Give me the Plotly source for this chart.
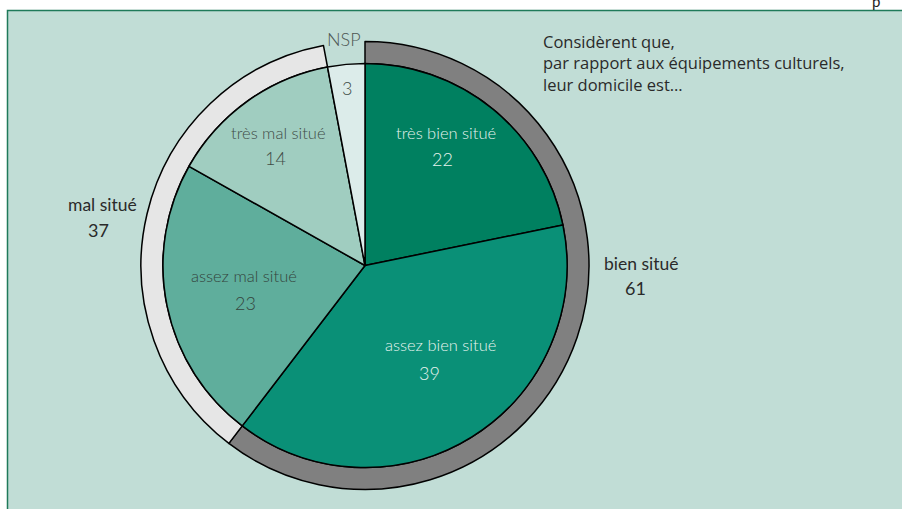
import plotly.graph_objects as go

# ---- data ----
inner_labels = ["très bien situé", "assez bien situé", "assez mal situé", "très mal situé", "NSP"]
inner_values = [22, 39, 23, 14, 3]
outer_labels = ["bien situé", "mal situé", "NSP"]
outer_values = [61, 37, 3]
title_lines = ["Considèrent que,", "par rapport aux équipements culturels,", "leur domicile est…"]

# ---- styles / layout ----
W, H = 902, 509
cx, cy = 365, 265.5
R_out, R_in = 224, 202
inner_colors = ["#008060", "#0a9077", "#5fae9c", "#a0cdc0", "#dcecea"]
outer_colors = ["#808080", "#e6e6e6", "rgba(0,0,0,0)"]
inner_text_colors = ["#e6f3ee", "#e6f3ee", "#34443d", "#3f4c47", "#3f4c47"]
FONT = "Lato"

def dom(r):
    return dict(x=[(cx - r) / W, (cx + r) / W],
                y=[(H - cy - r) / H, (H - cy + r) / H])

fig = go.Figure()
fig.add_trace(go.Pie(
    labels=outer_labels, values=outer_values, hole=R_in / R_out,
    sort=False, direction="clockwise", rotation=0,
    marker=dict(colors=outer_colors,
                line=dict(color="black", width=[1.5, 1.5, 0])),
    textinfo="none", hoverinfo="label+value", domain=dom(R_out),
    showlegend=False,
))
fig.add_trace(go.Pie(
    labels=inner_labels, values=inner_values,
    sort=False, direction="clockwise", rotation=0,
    marker=dict(colors=inner_colors, line=dict(color="black", width=1.5)),
    textinfo="none", hoverinfo="label+value", domain=dom(R_in),
    showlegend=False,
))

def px(x, y):
    return x / W, 1 - y / H

def text_ann(x, y, text, font, xanchor="center", yanchor="middle", **kw):
    X, Y = px(x, y)
    d = dict(x=X, y=Y, text=text, showarrow=False, xref="paper", yref="paper",
             xanchor=xanchor, yanchor=yanchor, font=font)
    d.update(kw)
    return d

ann = []
# (label x, label y, value x, value y)
inner_pos = [(446, 133, 442, 159), (440, 345, 429, 373), (244, 276, 245, 303),
             (278, 133, 275, 158), (None, None, 347, 88)]
for lab, val, (xl, yl, xv, yv), col in zip(inner_labels, inner_values, inner_pos, inner_text_colors):
    if yl is not None:
        ann.append(text_ann(xl, yl, lab, dict(family=FONT, size=16.5, color=col, weight=300)))
    ann.append(text_ann(xv, yv, str(val), dict(family=FONT, size=18, color=col, weight=300)))

outer_pos = [(641, 263, 635, 288), (102, 205, 98, 230), (344, 39, None, None)]
for lab, val, (xl, yl, xv, yv) in zip(outer_labels, outer_values, outer_pos):
    if yv is None:
        ann.append(text_ann(xl, yl, lab, dict(family=FONT, size=18, color="#4d5753", weight=300)))
        continue
    ann.append(text_ann(xl, yl, lab, dict(family=FONT, size=17.5, color="#2a2a2a")))
    ann.append(text_ann(xv, yv, str(val), dict(family=FONT, size=18, color="#2a2a2a")))

ann.append(text_ann(541, 28, "<br>".join(title_lines),
                    dict(family="Open Sans", size=16.5, color="#2a2a2a"),
                    xanchor="left", yanchor="top", align="left"))

# cut-off letter at top right (as in the reference)
ann.append(text_ann(876, 2, "p", dict(family=FONT, size=15, color="#222"),
                    yanchor="bottom", yshift=-10))

fig.update_layout(
    width=W, height=H, margin=dict(l=0, r=0, t=0, b=0),
    paper_bgcolor="white", plot_bgcolor="white",
    annotations=ann,
    shapes=[dict(type="rect", xref="paper", yref="paper", layer="below",
                 x0=7.5 / W, x1=1.05, y0=-0.05, y1=1 - 10.5 / H,
                 fillcolor="#c1ddd6", line=dict(color="#1f7a5a", width=1.5))],
)
fig.write_html("out.html", config={"displayModeBar": False},
               post_script="document.body.style.margin='0';document.body.style.overflow='hidden';")
